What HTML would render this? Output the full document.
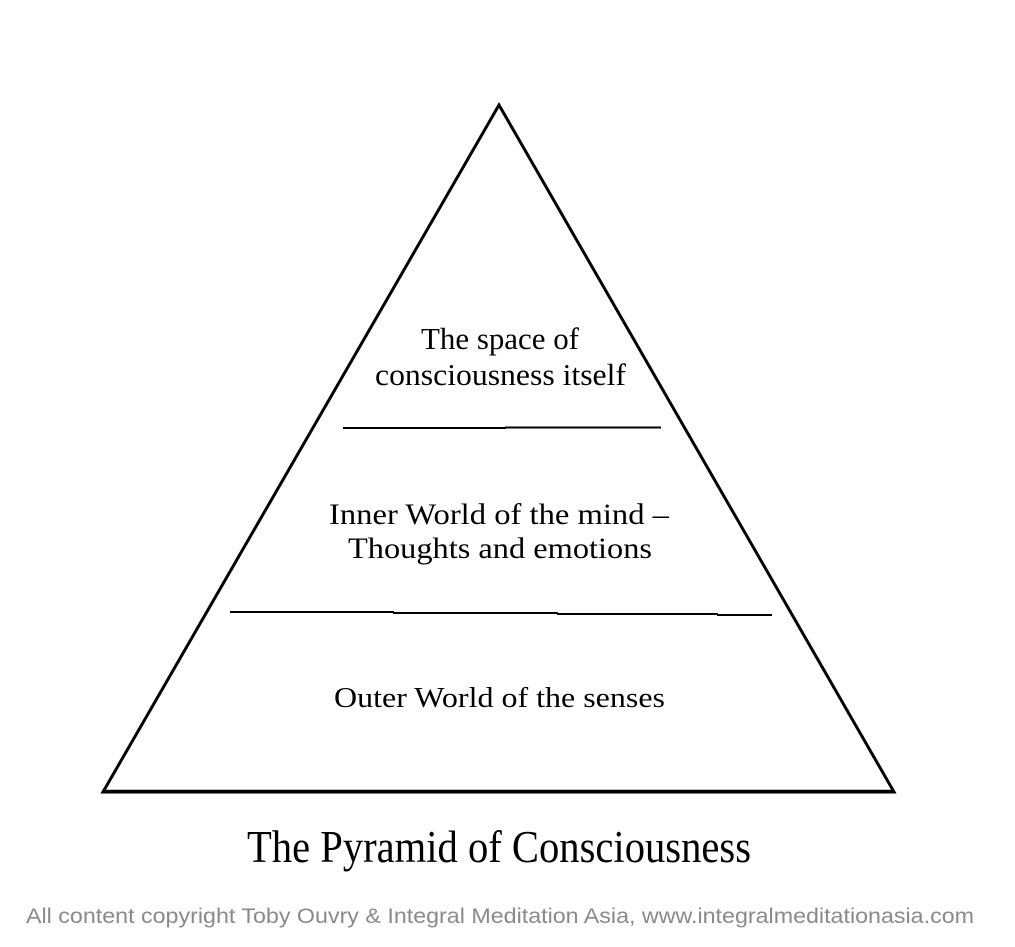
<!DOCTYPE html>
<html>
<head>
<meta charset="utf-8">
<style>
  html, body { margin: 0; padding: 0; background: #ffffff; }
  body { width: 1015px; height: 947px; overflow: hidden; }
  svg { display: block; }
  .serif { font-family: "Liberation Serif", "DejaVu Serif", serif; fill: #000; }
  .sans { font-family: "Liberation Sans", "DejaVu Sans", sans-serif; fill: #8a8a8a; }
</style>
</head>
<body>
<svg width="1015" height="947" viewBox="0 0 1015 947" xmlns="http://www.w3.org/2000/svg">
  <rect x="0" y="0" width="1015" height="947" fill="#ffffff"/>

  <!-- Pyramid -->
  <polygon points="499,105 103,792 894,792" fill="none" stroke="#000" stroke-width="3" stroke-linejoin="miter" stroke-miterlimit="20"/>
  <line x1="103" y1="791.5" x2="894" y2="791.5" stroke="#000" stroke-width="3.5"/>

  <!-- Divider 1 -->
  <line x1="343" y1="428" x2="506" y2="428" stroke="#000" stroke-width="2"/>
  <line x1="505" y1="427.5" x2="661" y2="427.5" stroke="#000" stroke-width="2"/>

  <!-- Divider 2 -->
  <line x1="230" y1="612" x2="394" y2="612" stroke="#000" stroke-width="2"/>
  <line x1="393" y1="613" x2="558" y2="613" stroke="#000" stroke-width="2"/>
  <line x1="557" y1="614" x2="718" y2="614" stroke="#000" stroke-width="2"/>
  <line x1="717" y1="615" x2="772" y2="615" stroke="#000" stroke-width="2"/>

  <!-- Labels -->
  <text class="serif" x="421" y="349" font-size="31" textLength="158" lengthAdjust="spacingAndGlyphs">The space of</text>
  <text class="serif" x="375" y="385" font-size="31" textLength="251" lengthAdjust="spacingAndGlyphs">consciousness itself</text>

  <text class="serif" x="329" y="524" font-size="30" textLength="340" lengthAdjust="spacingAndGlyphs">Inner World of the mind –</text>
  <text class="serif" x="348" y="558" font-size="30" textLength="304" lengthAdjust="spacingAndGlyphs">Thoughts and emotions</text>

  <text class="serif" x="334" y="707" font-size="29" textLength="331" lengthAdjust="spacingAndGlyphs">Outer World of the senses</text>

  <!-- Title -->
  <text class="serif" x="247" y="862" font-size="45" textLength="504" lengthAdjust="spacingAndGlyphs">The Pyramid of Consciousness</text>

  <!-- Footer -->
  <text class="sans" x="26" y="923" font-size="21" textLength="948" lengthAdjust="spacingAndGlyphs">All content copyright Toby Ouvry &amp; Integral Meditation Asia, www.integralmeditationasia.com</text>
</svg>
</body>
</html>
